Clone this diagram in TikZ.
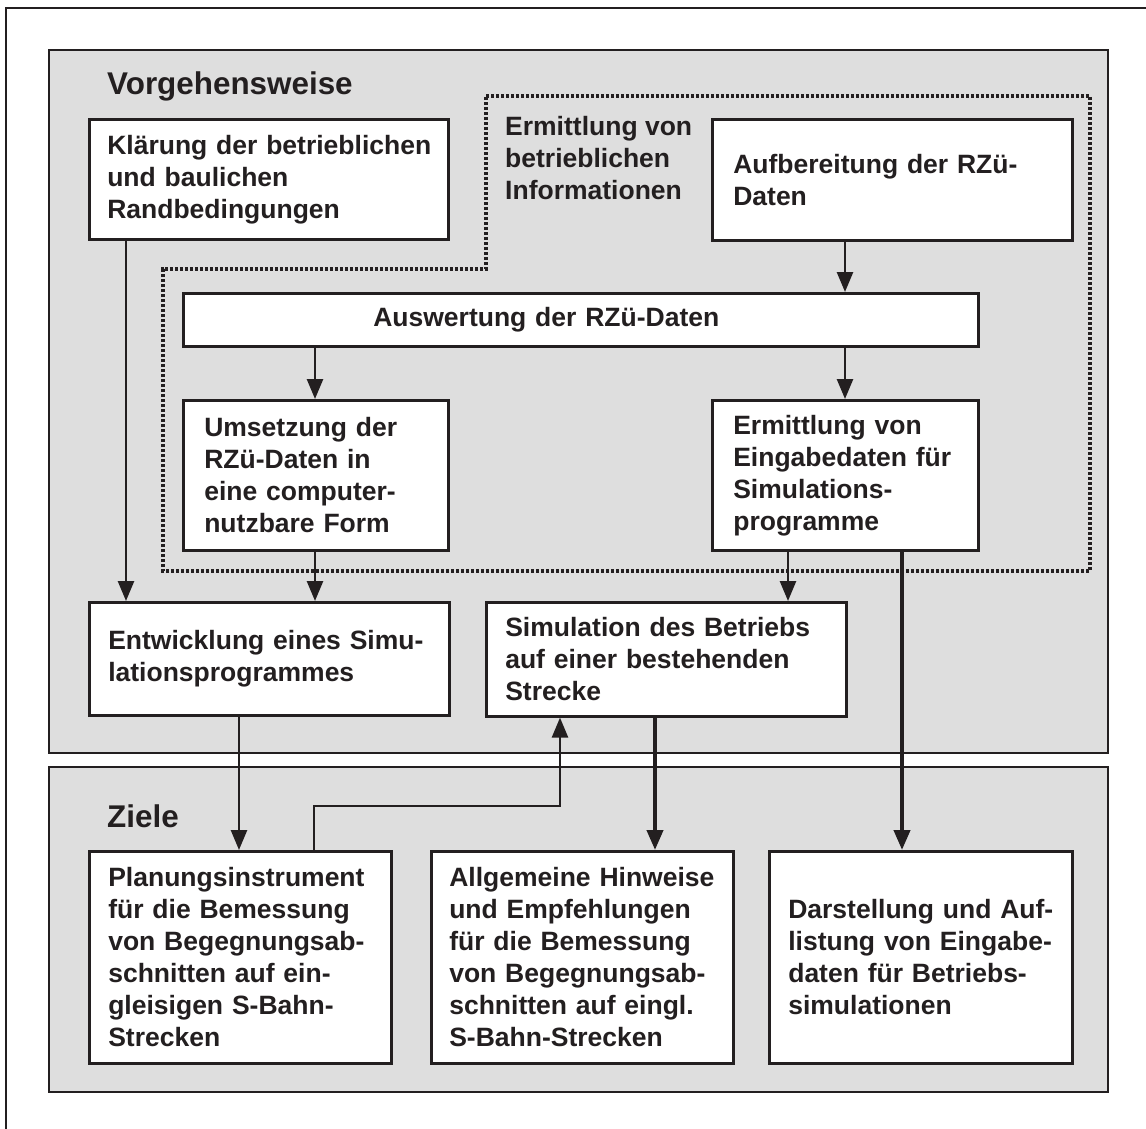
\documentclass[tikz,border=0pt]{standalone}
\usepackage{fontspec}
\setmainfont{Liberation Sans}
\usetikzlibrary{arrows.meta}
\definecolor{ink}{RGB}{35,31,32}
\definecolor{panelgray}{RGB}{222,222,222}
\newcommand\boxfont{\bfseries\fontsize{26.5}{32}\selectfont\hyphenpenalty=10000\exhyphenpenalty=10000}
\newcommand\headfont{\bfseries\fontsize{31.4}{38}\selectfont}
\tikzset{
  panel/.style={draw=ink,fill=panelgray,line width=2.8pt},
  zone/.style={draw=ink,line width=3.3pt,dash pattern=on 3.3pt off 1.7pt},
  box/.style={draw=ink,fill=white,line width=2.6pt,inner sep=0pt,anchor=north west,align=left,text=ink,font=\boxfont},
  note/.style={inner sep=0pt,anchor=north west,align=left,text=ink,font=\boxfont},
  title/.style={inner sep=0pt,anchor=base west,text=ink,font=\headfont},
  arr/.style={-{Triangle[length=20pt,width=16pt]},draw=ink,line width=2.6pt},
  fat/.style={arr,line width=4pt}
}
\begin{document}
\begin{tikzpicture}[x=1pt,y=-1pt]
\useasboundingbox (0,0) rectangle (1146,1129);
\draw[ink,line width=2.6pt] (6,1129) -- (6,8) -- (1146,8);
\draw[panel] (49,50) rectangle (1108,753);
\draw[panel] (49,767) rectangle (1108,1092);
\draw[zone] (486,96) -- (1090,96) -- (1090,571) -- (163,571) -- (163,269) -- (486,269) -- cycle;
\node[title] (vorgehen) at (107,95) {Vorgehensweise};
\node[title] (ziele) at (107,827) {Ziele};
\node[note] (ermittlung) at (505,116) {Ermittlung von\\betrieblichen\\Informationen};
\node[box,minimum width=359,minimum height=120,text width=323] (klaerung) at (88,118) {\mbox{Klärung der betrieblichen}\\und baulichen\\Randbedingungen};
\node[box,minimum width=360,minimum height=121,text width=318] (aufb) at (711,118) {Aufbereitung der RZü-\\Daten};
\node[box,minimum width=795,minimum height=53,text width=415] (ausw) at (182,292) {Auswertung der RZü-Daten};
\node[box,minimum width=265,minimum height=150,text width=223] (umsetz) at (182,399) {Umsetzung der\\RZü-Daten in\\eine computer-\\nutzbare Form};
\node[box,minimum width=266,minimum height=150,text width=224] (eingabe) at (711,399) {Ermittlung von\\Eingabedaten für\\Simulations-\\programme};
\node[box,minimum width=360,minimum height=113,text width=322] (entw) at (88,601) {Entwicklung eines Simu-\\lationsprogrammes};
\node[box,minimum width=360,minimum height=114,text width=322] (sim) at (485,601) {Simulation des Betriebs\\auf einer bestehenden\\Strecke};
\node[box,minimum width=302,minimum height=212,text width=264] (planung) at (88,850) {Planungsinstrument\\für die Bemessung\\von Begegnungsab-\\schnitten auf ein-\\gleisigen S-Bahn-\\Strecken};
\node[box,minimum width=302,minimum height=212,text width=266] (allg) at (430,850) {Allgemeine Hinweise\\und Empfehlungen\\für die Bemessung\\von Begegnungsab-\\schnitten auf eingl.\\S-Bahn-Strecken};
\node[box,minimum width=303,minimum height=212,text width=265] (darst) at (768,850) {Darstellung und Auf-\\listung von Eingabe-\\daten für Betriebs-\\simulationen};
\draw[arr] ([xshift=38pt]klaerung.south west) -- ([xshift=38pt]entw.north west);
\draw[arr] ([xshift=134pt]aufb.south west) -- ([xshift=663pt]ausw.north west);
\draw[arr] ([xshift=133pt]ausw.south west) -- ([xshift=133pt]umsetz.north west);
\draw[arr] ([xshift=663pt]ausw.south west) -- ([xshift=134pt]eingabe.north west);
\draw[arr] ([xshift=133pt]umsetz.south west) -- ([xshift=227pt]entw.north west);
\draw[arr] ([xshift=77pt]eingabe.south west) -- ([xshift=303pt]sim.north west);
\draw[arr] ([xshift=151pt]entw.south west) -- ([xshift=151pt]planung.north west);
\draw[arr] ([xshift=226pt]planung.north west) -- ++(0,-44) -| ([xshift=75pt]sim.south west);
\draw[fat] ([xshift=170pt]sim.south west) -- ([xshift=225pt]allg.north west);
\draw[fat] ([xshift=191pt]eingabe.south west) -- ([xshift=134pt]darst.north west);
\end{tikzpicture}
\end{document}
